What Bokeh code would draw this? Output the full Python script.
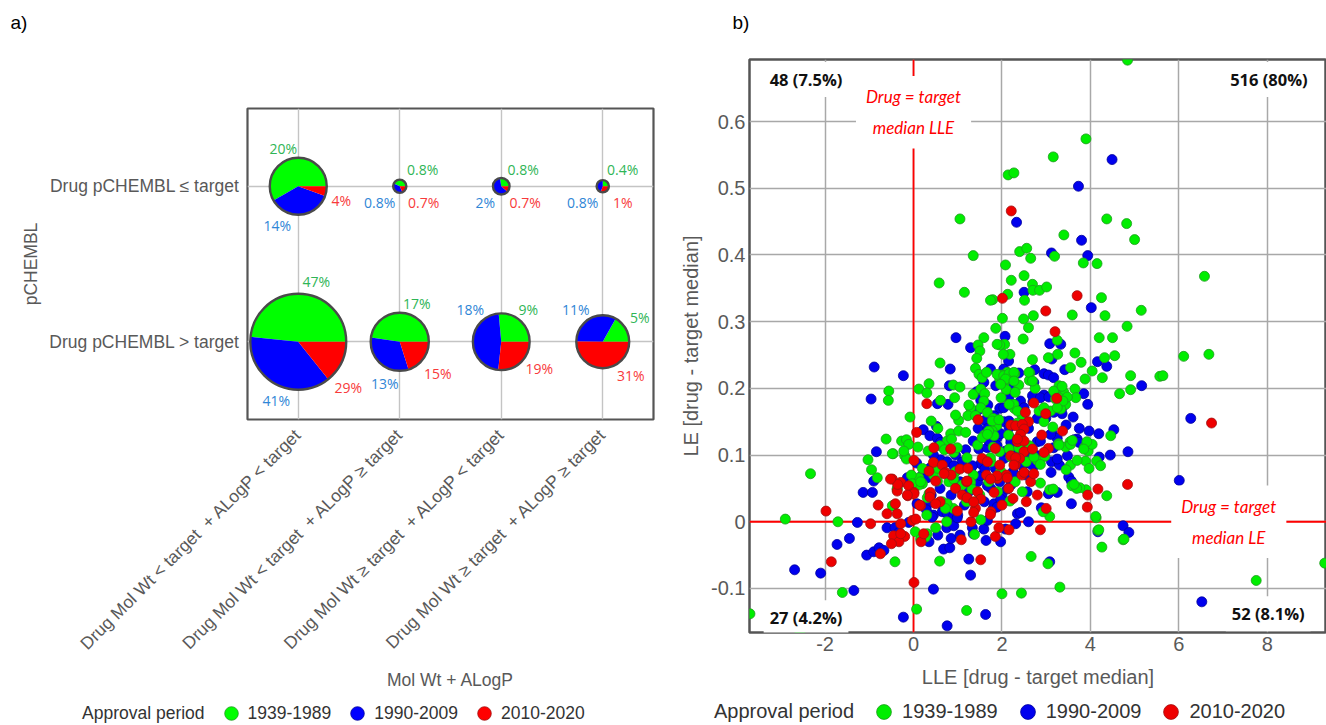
import math
from jinja2 import Template
from bokeh.plotting import figure
from bokeh.models import (ColumnDataSource, FactorRange, Range1d, FixedTicker, Span,
                          Label, Legend, LegendItem)
from bokeh.core.properties import value
from bokeh.embed import file_html
from bokeh.resources import INLINE

NB = "\u00a0"
NAN = float("nan")
# ---------------- Panel a data ----------------
mw_alogp_categories = [
    f"Drug Mol Wt < target{NB} + ALogP < target",
    f"Drug Mol Wt < target{NB} + ALogP \u2265 target",
    f"Drug Mol Wt \u2265 target{NB} + ALogP < target",
    f"Drug Mol Wt \u2265 target{NB} + ALogP \u2265 target",
]
pchembl_categories = ["Drug pCHEMBL > target", "Drug pCHEMBL \u2264 target"]
periods = ["1939-1989", "1990-2009", "2010-2020"]
period_totals = [272, 241, 130]          # approx. number of drugs per approval period

# share (%) of each period's drugs falling in each Mol Wt/ALogP cell
pct_1939_1989_le = [20, 0.8, 0.8, 0.4]
pct_1990_2009_le = [14, 0.8, 2, 0.8]
pct_2010_2020_le = [4, 0.7, 0.7, 1]
pct_1939_1989_gt = [47, 17, 9, 5]
pct_1990_2009_gt = [41, 13, 18, 11]
pct_2010_2020_gt = [29, 15, 19, 31]

# ---------------- Panel b data (LLE, LE relative to target median) ----------------
pts_1939_1989 = [
    (4.84,0.692),(3.90,0.574),(3.16,0.547),(2.14,0.520),(2.27,0.523),(4.37,0.454),(4.82,0.447),(1.05,0.454),(5.00,0.423),(3.40,0.430),
    (1.35,0.399),(3.19,0.398),(2.40,0.405),(2.56,0.410),(2.65,0.395),(2.08,0.385),(3.84,0.388),(4.15,0.387),(6.58,0.368),(2.21,0.362),
    (2.50,0.369),(0.58,0.358),(2.69,0.356),(2.70,0.347),(2.85,0.347),(3.01,0.352),(1.15,0.344),(2.13,0.341),(1.79,0.333),(2.51,0.332),
    (1.74,0.332),(4.25,0.336),(2.01,0.305),(2.49,0.304),(2.71,0.309),(3.59,0.310),(4.33,0.309),(5.15,0.317),(1.86,0.290),(2.60,0.291),
    (4.83,0.293),(1.59,0.276),(2.48,0.274),(3.25,0.272),(4.20,0.276),(4.50,0.276),(1.46,0.265),(1.50,0.256),(2.06,0.266),(1.95,0.265),
    (2.18,0.251),(1.43,0.245),(3.26,0.251),(3.05,0.246),(3.65,0.253),(3.79,0.239),(4.32,0.246),(4.55,0.249),(2.69,0.243),(6.11,0.248),
    (6.68,0.251),(0.60,0.238),(4.91,0.219),(4.27,0.216),(5.57,0.218),(5.64,0.219),(2.63,0.223),(2.29,0.222),(2.12,0.224),(2.00,0.220),
    (3.88,0.214),(4.66,0.192),(4.91,0.198),(2.03,0.251),(3.55,0.231),(4.04,0.226),(1.40,0.230),(1.48,0.221),(1.55,0.216),(1.65,0.224),
    (0.35,0.207),(0.90,0.205),(1.05,0.202),(0.12,0.199),(-0.56,0.196),(-0.57,0.182),(0.30,0.193),(0.61,0.182),(0.93,0.186),(1.35,0.191),
    (1.52,0.199),(1.61,0.192),(1.59,0.181),(1.52,0.171),(1.67,0.164),(1.29,0.171),(1.23,0.159),(1.40,0.159),(-0.08,0.157),(0.40,0.151),
    (1.02,0.152),(0.84,0.132),(1.02,0.136),(1.18,0.134),(0.76,0.121),(0.86,0.124),(-0.62,0.124),(-0.27,0.121),(-0.16,0.123),(-0.11,0.116),
    (0.10,0.112),(0.33,0.106),(0.60,0.114),(0.70,0.108),(-0.46,0.102),(-1.03,0.093),(-0.20,0.099),(-0.16,0.094),(-0.95,0.078),(1.21,0.096),
    (0.91,0.104),(0.99,0.111),(1.89,0.266),(3.65,0.199),(3.29,0.204),(3.40,0.194),(3.21,0.192),(1.95,0.214),(2.05,0.208),(2.25,0.212),
    (2.38,0.205),(2.10,0.198),(2.30,0.194),(1.98,0.186),(2.62,0.212),(2.75,0.200),(3.44,0.176),(3.33,0.169),(3.10,0.166),(3.17,0.196),
    (3.36,0.203),(3.29,0.186),(3.67,0.186),(2.28,0.170),(2.45,0.160),(2.35,0.148),(1.80,0.155),(1.88,0.144),(2.95,0.150),(3.15,0.142),
    (3.54,0.120),(3.28,0.117),(3.44,0.112),(3.87,0.112),(3.95,0.106),(4.04,0.116),(4.14,0.091),(4.23,0.084),(3.89,0.091),(3.97,0.080),
    (3.55,0.085),(3.45,0.078),(2.80,0.092),(2.97,0.098),(3.70,0.092),(3.92,0.120),(1.80,0.112),(1.95,0.105),(2.45,0.120),(2.62,0.114),
    (1.75,0.090),(2.20,0.097),(4.37,0.039),(4.13,0.006),(4.17,-0.013),(4.74,-0.027),(4.26,-0.038),(2.66,-0.052),(3.04,-0.063),(3.31,-0.098),
    (2.44,-0.107),(2.00,-0.108),(7.75,-0.088),(9.30,-0.062),(3.08,0.008),(2.93,0.015),(3.90,0.048),(3.76,0.051),(3.58,0.054),(3.69,0.050),
    (3.08,0.048),(4.12,0.008),(4.19,-0.012),(4.76,-0.026),(3.63,0.056),(3.16,0.049),(2.87,0.058),(2.46,0.045),(2.18,0.031),(1.52,0.003),
    (1.38,-0.019),(0.04,-0.015),(0.31,-0.018),(0.27,-0.023),(0.50,-0.009),(0.16,-0.026),(0.59,-0.059),(-0.42,-0.060),(1.20,-0.133),(0.07,-0.131),
    (-2.33,0.072),(-2.90,0.004),(-1.71,0.000),(-1.61,-0.106),(-2.57,-0.166),(-3.70,-0.138),(-0.48,0.102),(-0.22,0.106),(-0.37,0.049),(-0.46,0.024),
    (0.05,0.054),(0.12,0.066),(0.20,0.057),(0.45,0.070),(0.55,0.080),(0.80,0.060),(0.95,0.075),(1.10,0.055),(1.35,0.070),(1.50,0.040),
    (1.70,0.060),(1.90,0.045),(2.05,0.070),(2.30,0.060),(0.65,0.030),(0.90,0.020),(1.20,0.030),(0.30,0.010),(0.75,0.000),(1.60,0.130),
    (1.45,0.115),(2.15,0.130),(2.55,0.090),(1.25,0.175),(0.95,0.160),(0.55,0.140),(0.20,0.080),(-0.05,0.070),
    (1.89,0.221),(2.04,0.219),(2.16,0.222),(2.27,0.224),(2.08,0.214),(2.27,0.211),(1.97,0.206),(2.61,0.224),(2.69,0.211),(3.21,0.184),
    (3.48,0.187),(3.38,0.181),(2.27,0.176),(2.35,0.166),(2.16,0.176),(2.84,0.166),(2.95,0.171),(3.25,0.171),(1.78,0.151),(1.93,0.153),
    (1.78,0.136),(1.82,0.129),(3.55,0.116),(3.29,0.115),(3.59,0.122),(3.85,0.109),(4.46,0.129),(2.87,0.086),(2.72,0.097),(2.16,0.109),
    (2.38,0.111),(1.74,0.096),(1.97,0.076),(0.54,0.061),(0.76,0.027),(0.72,0.020),(0.91,0.064),(1.29,0.059),(1.32,0.049),(0.12,0.055),
    (0.35,0.042),(0.31,0.036),(-0.48,0.024),(-0.37,0.049),(-0.03,0.057),(0.16,0.060),(-0.82,0.066),(1.70,0.136),(1.55,0.126),(1.67,0.131),
]
pts_1990_2009 = [
    (4.49,0.543),(3.73,0.503),(2.33,0.449),(3.80,0.422),(3.12,0.403),(3.94,0.399),(2.50,0.344),(4.02,0.321),(2.07,0.278),(0.96,0.276),
    (1.29,0.261),(3.08,0.267),(3.33,0.266),(2.15,0.241),(3.13,0.244),(0.83,0.229),(-0.89,0.232),(-0.23,0.219),(4.16,0.240),(4.37,0.233),
    (3.42,0.228),(2.74,0.228),(2.95,0.222),(3.05,0.220),(2.38,0.223),(5.16,0.204),(6.27,0.155),(6.01,0.062),(4.17,-0.015),(4.74,-0.006),
    (4.87,-0.016),(3.08,-0.060),(6.52,-0.120),(3.57,0.027),(2.89,0.021),(3.05,0.042),(4.53,0.138),(4.19,0.132),(3.97,0.136),(3.70,0.124),
    (3.48,0.099),(3.12,0.090),(3.11,0.074),(3.51,0.067),(3.57,0.061),(3.14,0.132),(3.36,0.171),(3.36,0.162),(3.94,0.176),(3.85,0.192),
    (3.61,0.157),(3.17,0.187),(1.74,0.229),(2.04,0.229),(3.17,0.216),(2.72,0.209),(2.26,0.204),(1.86,0.204),(0.81,0.204),(-0.96,0.184),
    (0.54,0.177),(0.78,0.176),(1.43,0.195),(1.59,0.209),(1.52,0.182),(1.68,0.175),(1.44,0.166),(1.61,0.152),(1.46,0.140),(1.68,0.140),
    (0.22,0.138),(0.52,0.143),(0.37,0.129),(0.54,0.125),(0.61,0.119),(-0.84,0.105),(0.07,0.088),(0.61,0.093),(0.76,0.090),(1.18,0.108),
    (1.35,0.121),(1.48,0.109),(1.52,0.087),(1.67,0.111),(1.71,0.121),(2.95,0.190),(2.70,0.180),(2.15,0.185),(2.40,0.170),(1.95,0.170),
    (2.05,0.150),(2.60,0.140),(2.20,0.125),(1.90,0.130),(2.35,0.110),(2.80,0.120),(3.25,0.125),(3.45,0.145),(3.75,0.140),(4.20,0.097),
    (4.45,0.100),(4.85,0.105),(2.75,0.085),(2.45,0.085),(2.05,0.095),(1.85,0.080),(3.30,0.085),(-1.27,-0.001),(-1.73,-0.034),(-1.45,-0.025),
    (-2.69,-0.072),(-2.10,-0.077),(-1.35,-0.103),(-1.06,-0.050),(-0.90,-0.045),(-0.78,-0.039),(-0.67,-0.043),(-1.14,0.044),(-0.93,0.044),(-0.90,0.061),
    (-0.60,-0.009),(-0.42,-0.009),(-0.33,-0.016),(-0.11,-0.001),(-0.23,-0.143),(0.45,-0.101),(0.76,-0.156),(1.63,-0.139),(0.68,-0.041),(0.82,-0.039),
    (1.25,-0.056),(1.29,-0.080),(0.75,-0.009),(0.91,-0.006),(1.33,-0.009),(1.35,-0.018),(1.64,-0.028),(1.97,-0.030),(1.59,-0.011),(1.67,0.002),
    (2.08,-0.011),(2.31,-0.003),(2.35,0.012),(2.42,0.014),(3.25,0.044),(2.57,0.045),(-0.14,0.066),(-0.03,0.066),(0.16,0.067),(0.31,0.066),
    (0.40,0.040),(0.60,0.050),(0.85,0.040),(1.05,0.060),(1.25,0.045),(1.45,0.060),(1.60,0.030),(1.80,0.020),(2.00,0.040),(2.20,0.055),
    (0.45,0.010),(0.65,0.015),(1.00,0.010),(1.15,0.025),(2.55,0.070),(2.25,0.075),(1.95,0.060),(0.30,0.025),(1.10,0.090),(0.95,0.100),
    (1.30,0.080),(0.45,0.100),(1.75,0.050),(2.60,0.000),(0.85,-0.025),(1.05,-0.020),(0.35,-0.030),(0.55,-0.020),
    (1.74,0.136),(1.89,0.126),(1.97,0.132),(2.16,0.141),(1.89,0.114),(2.20,0.119),(2.08,0.106),(2.50,0.111),(2.87,0.121),(3.10,0.131),
    (3.17,0.111),(2.65,0.099),(2.80,0.099),(2.57,0.089),(2.46,0.084),(2.68,0.085),(3.63,0.123),(3.74,0.119),(3.25,0.094),(2.69,0.189),
    (2.87,0.186),(3.06,0.187),(2.42,0.181),(2.50,0.171),(2.04,0.171),(1.82,0.159),(2.16,0.151),(3.17,0.164),(2.99,0.155),(2.80,0.155),
    (0.08,0.027),(0.29,0.018),(0.61,0.027),(0.76,0.012),(0.91,0.009),(0.99,0.006),(0.42,0.007),(1.52,0.069),(1.67,0.054),(1.82,0.027),
    (1.89,0.022),(1.97,0.034),(2.27,0.072),(2.12,0.049),(0.91,0.084),(0.38,0.081),(1.33,0.084),(1.61,0.079),
]
pts_2010_2020 = [
    (2.21,0.466),(2.01,0.335),(3.70,0.339),(2.99,0.316),(3.20,0.285),(6.74,0.148),(4.84,0.056),(4.17,0.049),(3.94,0.040),(3.93,0.022),
    (2.87,-0.012),(3.37,0.136),(2.99,0.162),(0.30,0.177),(1.46,0.153),(0.07,0.134),(0.46,0.111),(0.84,0.109),(0.45,0.089),(0.65,0.085),
    (1.05,0.079),(1.23,0.080),(1.55,0.095),(1.67,0.090),(2.72,0.178),(3.24,0.185),(2.53,0.164),(-1.98,0.016),(-1.86,-0.060),(-0.80,0.025),
    (-0.97,-0.003),(-0.60,0.012),(-0.37,0.012),(-0.29,-0.003),(-0.45,-0.021),(-0.20,-0.022),(-0.33,-0.030),(-0.50,-0.033),(-0.75,-0.048),(-0.03,0.002),
    (0.05,0.004),(0.01,-0.091),(0.17,-0.030),(1.08,-0.027),(1.85,-0.022),(1.93,-0.009),(2.16,-0.012),(1.52,-0.057),(-0.48,0.064),(-0.29,0.059),
    (-0.37,0.046),(-0.11,0.054),(0.01,0.044),(-0.13,0.039),(0.01,0.092),(0.35,0.076),(0.50,0.061),(0.72,0.074),(0.38,0.044),(0.16,0.024),
    (-0.29,-0.018),(0.23,-0.018),(2.35,0.120),(2.50,0.105),(2.40,0.095),(2.30,0.085),(2.45,0.070),(2.65,0.060),(2.10,0.070),(1.95,0.085),
    (2.80,0.040),(3.00,0.020),(2.25,0.035),(2.00,0.025),(1.75,0.015),(1.40,0.020),(1.20,0.060),(0.95,0.050),(1.45,0.045),(1.65,0.070),
    (2.15,0.050),(2.55,0.030),(1.30,0.000),(0.85,0.070),(1.85,0.110),(2.60,0.150),(2.90,0.130),(3.05,0.110),(2.20,0.145),(1.90,0.065),
    (0.60,0.030),(1.10,0.040),
    (2.31,0.144),(2.46,0.146),(2.50,0.139),(2.42,0.131),(2.50,0.121),(2.35,0.124),(2.69,0.109),(2.95,0.104),(2.20,0.099),(2.31,0.096),
    (2.27,0.085),(0.01,0.042),(0.14,0.025),(0.37,0.037),(0.50,0.027),(-0.14,0.040),(-0.41,0.027),(-0.36,0.056),(-0.52,0.064),(0.69,0.072),
    (0.99,0.016),(1.36,0.014),(1.74,0.011),(1.52,0.034),(1.82,0.044),(1.21,0.036),(1.36,0.030),(1.89,0.069),(1.74,0.064),(1.21,0.061),
    (2.12,0.066),(2.50,0.074),(2.72,0.072),
]
xticks_b = [-2, 0, 2, 4, 6, 8]
yticks_b = [-0.1, 0.0, 0.1, 0.2, 0.3, 0.4, 0.5, 0.6]
ytick_labels_b = ["-0.1", "0", "0.1", "0.2", "0.3", "0.4", "0.5", "0.6"]
quadrant_counts = ["48 (7.5%)", "516 (80%)", "27 (4.2%)", "52 (8.1%)"]

# ---------------- styles ----------------
PIE_COLORS = ["#00ff00", "#0000ff", "#ff0000"]
PCT_COLORS = ["#2fb556", "#2f86d6", "#f83a3a"]
DOT_FILL = ["#00ee00", "#0000ee", "#ee0000"]
DOT_LINE = ["#1f9a1f", "#00009a", "#a01010"]
GREY = "#595959"
FONT = "Liberation Sans"

# label offsets (px) around each pie: [cell][period] -> (dx, dy)
offsets_le = [[(-15, -38), (-21, 39), (43, 14)], [(23, -17), (-20, 16), (24, 16)],
              [(22, -17), (-16, 16), (24, 16)], [(20, -17), (-20, 16), (20, 16)]]
offsets_gt = [[(18, -60), (-22, 59), (50, 46)], [(17, -38), (-15, 42), (38, 32)],
              [(27, -32), (-31, -32), (38, 27)], [(37, -24), (-27, -32), (28, 34)]]


def style_axes(p, size):
    for ax in (p.xaxis, p.yaxis):
        ax.axis_line_color = None
        ax.major_tick_line_color = None
        ax.minor_tick_line_color = None
        ax.major_tick_out = 0
        ax.major_tick_in = 0
        ax.minor_tick_out = 0
        ax.minor_tick_in = 0
        ax.major_label_text_font = FONT
        ax.major_label_text_font_size = size
        ax.major_label_text_color = GREY
        ax.axis_label_text_font = FONT
        ax.axis_label_text_font_size = size
        ax.axis_label_text_font_style = "normal"
        ax.axis_label_text_color = GREY


def legend_strip(width, height, glyph_w, font_size, start_x, spacing, fills, lines):
    """A thin borderless figure that only carries the 'Approval period' legend row."""
    f = figure(width=width, height=height, x_range=Range1d(0, 1), y_range=Range1d(0, 1),
               x_axis_type=None, y_axis_type=None, min_border=0, outline_line_color=None,
               output_backend="svg", toolbar_location=None)
    # legend proxies: a single undefined (NaN) point each, so nothing is drawn in the strip
    blank = f.scatter(x=[NAN], y=[NAN], marker="circle", fill_alpha=0, line_alpha=0)
    rs = [f.scatter(x=[NAN], y=[NAN], marker="circle", fill_color=fills[k], line_color=lines[k],
                    line_width=0.8) for k in range(3)]
    leg = Legend(items=[LegendItem(label="Approval period", renderers=[blank])] +
                       [LegendItem(label=periods[k], renderers=[rs[k]]) for k in range(3)],
                 orientation="horizontal", location=(start_x, 0), glyph_width=glyph_w,
                 glyph_height=height, label_standoff=0, spacing=spacing, padding=0, margin=0,
                 border_line_color=None, background_fill_alpha=0, label_text_font=FONT,
                 label_text_font_size=font_size, label_text_color="#333333",
                 label_height=height)
    f.add_layout(leg)
    return f


# ================= Panel a =================
pa = figure(x_range=FactorRange(*mw_alogp_categories), y_range=FactorRange(*pchembl_categories),
            frame_width=406, frame_height=311, min_border_left=247, min_border_right=19,
            min_border_top=108, min_border_bottom=0,
            output_backend="svg", toolbar_location=None,
            x_axis_label="Mol Wt + ALogP", y_axis_label="pCHEMBL")
pa.outline_line_color = "#555555"
pa.outline_line_width = 2.2
pa.grid.grid_line_color = "#c4c4c4"
pa.grid.grid_line_width = 1.4
style_axes(pa, "17.5px")
pa.xaxis.major_label_orientation = math.pi / 4
pa.xaxis.major_label_standoff = 12
pa.xaxis.axis_label_standoff = 6
pa.yaxis.major_label_standoff = 8
pa.yaxis.axis_label_standoff = 5

rows_pct = [
    (pchembl_categories[1], [pct_1939_1989_le, pct_1990_2009_le, pct_2010_2020_le], offsets_le),
    (pchembl_categories[0], [pct_1939_1989_gt, pct_1990_2009_gt, pct_2010_2020_gt], offsets_gt),
]
wedge = dict(x=[], y=[], r=[], a0=[], a1=[], color=[])
circ = dict(x=[], y=[], r=[])
lab = dict(x=[], y=[], text=[], color=[], dx=[], dy=[])
for ycat, pcts, offs in rows_pct:
    for c, xcat in enumerate(mw_alogp_categories):
        counts = [pcts[k][c] * period_totals[k] / 100.0 for k in range(3)]
        total = sum(counts)
        r = 2.95 * math.sqrt(total)
        a = 0.0
        for k in range(3):
            da = 2 * math.pi * counts[k] / total
            wedge["x"].append(xcat); wedge["y"].append(ycat); wedge["r"].append(r)
            wedge["a0"].append(a); wedge["a1"].append(a + da); wedge["color"].append(PIE_COLORS[k])
            a += da
            lab["x"].append(xcat); lab["y"].append(ycat)
            lab["text"].append(f"{pcts[k][c]:g}%"); lab["color"].append(PCT_COLORS[k])
            lab["dx"].append(offs[c][k][0]); lab["dy"].append(offs[c][k][1])
        circ["x"].append(xcat); circ["y"].append(ycat); circ["r"].append(r)

pa.wedge(x="x", y="y", radius="r", radius_units="screen", start_angle="a0", end_angle="a1",
         fill_color="color", line_color=None, source=ColumnDataSource(wedge))
pa.circle(x="x", y="y", radius="r", radius_units="screen", fill_color=None,
          line_color="#4a4a4a", line_width=2.4, source=ColumnDataSource(circ))
pa.text(x="x", y="y", text="text", x_offset="dx", y_offset="dy", text_color="color",
        text_font=value("Open Sans"), text_font_size=value("14px"), text_align="center",
        text_baseline="middle", source=ColumnDataSource(lab))
pa.add_layout(Label(x=-2.335, y=2.553, text="a)", text_font=FONT, text_font_size="19px",
                    text_color="black", text_baseline="middle"), "above")

# ================= Panel b =================
pb = figure(x_range=Range1d(-3.71, 9.34), y_range=Range1d(-0.166, 0.693),
            frame_width=577, frame_height=573, min_border_left=77, min_border_right=0,
            min_border_top=59, min_border_bottom=0,
            output_backend="svg", toolbar_location=None,
            x_axis_label="LLE [drug - target median]", y_axis_label="LE [drug - target median]")
pb.outline_line_color = "#555555"
pb.outline_line_width = 2.5
pb.grid.grid_line_color = "#a8a8a8"
pb.grid.grid_line_width = 1.5
pb.xaxis.ticker = FixedTicker(ticks=xticks_b)
pb.yaxis.ticker = FixedTicker(ticks=yticks_b)
pb.xaxis.major_label_overrides = {t: str(t) for t in xticks_b}
pb.yaxis.major_label_overrides = dict(zip(yticks_b, ytick_labels_b))
style_axes(pb, "20px")
pb.xaxis.major_label_standoff = 4
pb.xaxis.axis_label_standoff = 12
pb.yaxis.major_label_standoff = 4
pb.yaxis.axis_label_standoff = 6

pb.add_layout(Span(location=0, dimension="height", line_color="#ff0000", line_width=1.8, level="underlay"))
pb.add_layout(Span(location=0, dimension="width", line_color="#ff0000", line_width=1.8, level="underlay"))

series = [pts_1939_1989, pts_1990_2009, pts_2010_2020]
for k in (1, 0, 2):
    xs = [p[0] for p in series[k]]
    ys = [p[1] for p in series[k]]
    pb.scatter(xs, ys, marker="circle", size=10, fill_color=DOT_FILL[k],
               line_color=DOT_LINE[k], line_width=0.8)

qpos = [(-3.39, 0.663, "left"), (9.05, 0.663, "right"), (-3.39, -0.144, "left"), (8.98, -0.138, "right")]
for (qx, qy, al), txt in zip(qpos, quadrant_counts):
    pb.add_layout(Label(x=qx, y=qy, text=txt, text_align=al, text_baseline="middle",
                        text_font="Open Sans", text_font_style="bold", text_font_size="16.5px",
                        text_color="#111111", background_fill_color="white", padding=6))
for tx, ty, txt in [(0, 0.614, "Drug = target\nmedian LLE"), (7.13, 0.0, "Drug = target\nmedian LE")]:
    pb.add_layout(Label(x=tx, y=ty, text=txt, text_align="center", text_baseline="middle",
                        text_font="Lato", text_font_style="italic", text_font_size="17px",
                        text_line_height=1.5, text_color="#ff0000",
                        background_fill_color="white", padding=10))
pb.add_layout(Label(x=-4.095, y=0.748, text="b)", text_font=FONT, text_font_size="19px",
                    text_color="black", text_baseline="middle"), "above")

# ================= legend rows =================
la = legend_strip(672, 34, 34, "17.5px", 48, 9, PIE_COLORS, DOT_LINE)
lb = legend_strip(654, 37, 37, "20px", 5, 11, DOT_FILL, DOT_LINE)

page = Template("""<!DOCTYPE html>
<html lang="en">
<head>
<meta charset="utf-8">
<title>Drug efficiency panels</title>
{{ bokeh_css }}
{{ bokeh_js }}
<style>
html, body { margin: 0; padding: 0; overflow: hidden; background: white; }
.wrap { position: relative; width: 1326px; height: 725px; }
.wrap > div { position: absolute; display: block !important; }
.wrap > div:nth-child(1) { left: 0px; top: 0px; }
.wrap > div:nth-child(2) { left: 672px; top: 0px; }
.wrap > div:nth-child(3) { left: 0px; top: 696px; }
.wrap > div:nth-child(4) { left: 672px; top: 693px; }
</style>
</head>
<body>
<div class="wrap">
{{ plot_div }}
</div>
{{ plot_script }}
</body>
</html>""")

open("out.html", "w").write(file_html([pa, pb, la, lb], INLINE, template=page))
